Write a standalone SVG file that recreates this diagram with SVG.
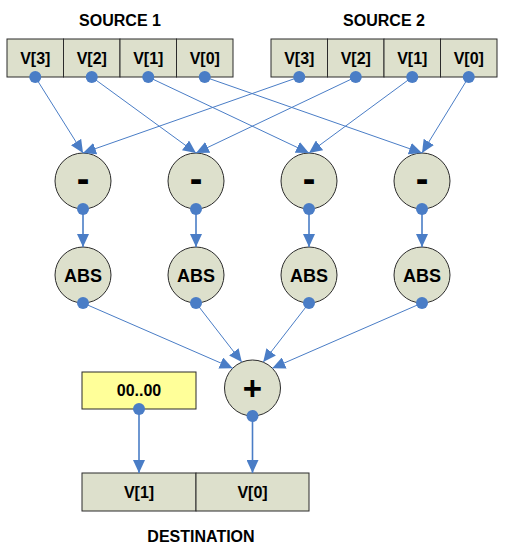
<svg xmlns="http://www.w3.org/2000/svg" width="506" height="558" viewBox="0 0 506 558">
<defs>
<style>
.cell{fill:#DDE0CC;stroke:#2b2b2b;stroke-width:1}
.op{fill:#DDE0CC;stroke:#2b2b2b;stroke-width:1}
.yel{fill:#FFFF99;stroke:#2b2b2b;stroke-width:1}
.t{font-family:"Liberation Sans",Arial,sans-serif;font-weight:bold;fill:#000;text-anchor:middle}
.lbl{font-size:16px}
.ttl{font-size:16px}
.abs{font-size:18px}
.sym{font-size:38px}
.plus{font-size:33px}
.ln{stroke:#4A7DC6;stroke-width:1;fill:none;marker-end:url(#ah)}
.lnv{stroke:#4A7DC6;stroke-width:1.6;fill:none;marker-end:url(#ah)}
.dot{fill:#4A7DC6}
</style>
<marker id="ah" markerUnits="userSpaceOnUse" markerWidth="13" markerHeight="12" refX="13" refY="6" orient="auto" viewBox="0 0 13 12">
<path d="M0,0 L13,6 L0,12 z" fill="#4A7DC6"/>
</marker>
</defs>

<g id="source1">
<text class="t ttl" x="120" y="25.5">SOURCE 1</text>
<rect class="cell" x="7" y="39" width="56.5" height="38"/>
<rect class="cell" x="63.5" y="39" width="56.5" height="38"/>
<rect class="cell" x="120" y="39" width="56.5" height="38"/>
<rect class="cell" x="176.5" y="39" width="56.5" height="38"/>
<text class="t lbl" x="35.25" y="64">V[3]</text>
<text class="t lbl" x="91.75" y="64">V[2]</text>
<text class="t lbl" x="148.25" y="64">V[1]</text>
<text class="t lbl" x="204.75" y="64">V[0]</text>
</g>

<g id="source2">
<text class="t ttl" x="384" y="25.5">SOURCE 2</text>
<rect class="cell" x="271" y="39" width="56.5" height="38"/>
<rect class="cell" x="327.5" y="39" width="56.5" height="38"/>
<rect class="cell" x="384" y="39" width="56.5" height="38"/>
<rect class="cell" x="440.5" y="39" width="56.5" height="38"/>
<text class="t lbl" x="299.25" y="64">V[3]</text>
<text class="t lbl" x="355.75" y="64">V[2]</text>
<text class="t lbl" x="412.25" y="64">V[1]</text>
<text class="t lbl" x="468.75" y="64">V[0]</text>
</g>

<g id="sub1"><circle class="op" cx="83" cy="181" r="28"/><text class="t sym" x="83" y="192">-</text></g>
<g id="sub2"><circle class="op" cx="196" cy="181" r="28"/><text class="t sym" x="196" y="192">-</text></g>
<g id="sub3"><circle class="op" cx="309" cy="181" r="28"/><text class="t sym" x="309" y="192">-</text></g>
<g id="sub4"><circle class="op" cx="422" cy="181" r="28"/><text class="t sym" x="422" y="192">-</text></g>

<g id="abs1"><circle class="op" cx="83" cy="275" r="28"/><text class="t abs" x="83" y="281.5">ABS</text></g>
<g id="abs2"><circle class="op" cx="196" cy="275" r="28"/><text class="t abs" x="196" y="281.5">ABS</text></g>
<g id="abs3"><circle class="op" cx="309" cy="275" r="28"/><text class="t abs" x="309" y="281.5">ABS</text></g>
<g id="abs4"><circle class="op" cx="422" cy="275" r="28"/><text class="t abs" x="422" y="281.5">ABS</text></g>

<g id="sum"><circle class="op" cx="252.5" cy="388" r="28"/><text class="t plus" x="252.5" y="399.5">+</text></g>

<g id="zero"><rect class="yel" x="82" y="372" width="114" height="37"/><text class="t lbl" x="139" y="396">00..00</text></g>

<g id="destination">
<rect class="cell" x="82" y="473" width="114" height="38"/>
<rect class="cell" x="196" y="473" width="113" height="38"/>
<text class="t lbl" x="139" y="498">V[1]</text>
<text class="t lbl" x="252.5" y="498">V[0]</text>
<text class="t ttl" x="201" y="542">DESTINATION</text>
</g>

<g id="connectors">
<line class="ln" x1="35.25" y1="77" x2="83" y2="153"/>
<line class="ln" x1="299.25" y1="77" x2="83" y2="153"/>
<line class="ln" x1="91.75" y1="77" x2="196" y2="153"/>
<line class="ln" x1="355.75" y1="77" x2="196" y2="153"/>
<line class="ln" x1="148.25" y1="77" x2="309" y2="153"/>
<line class="ln" x1="412.25" y1="77" x2="309" y2="153"/>
<line class="ln" x1="204.75" y1="77" x2="422" y2="153"/>
<line class="ln" x1="468.75" y1="77" x2="422" y2="153"/>

<line class="lnv" x1="83" y1="209" x2="83" y2="247"/>
<line class="lnv" x1="196" y1="209" x2="196" y2="247"/>
<line class="lnv" x1="309" y1="209" x2="309" y2="247"/>
<line class="lnv" x1="422" y1="209" x2="422" y2="247"/>

<line class="ln" x1="83" y1="303" x2="232.7" y2="368.2"/>
<line class="ln" x1="196" y1="303" x2="241.8" y2="362.1"/>
<line class="ln" x1="309" y1="303" x2="263.2" y2="362.1"/>
<line class="ln" x1="422" y1="303" x2="272.3" y2="368.2"/>

<line class="lnv" x1="139" y1="409" x2="139" y2="473"/>
<line class="lnv" x1="252.5" y1="416" x2="252.5" y2="473"/>

<circle class="dot" cx="35.25" cy="77" r="6"/>
<circle class="dot" cx="91.75" cy="77" r="6"/>
<circle class="dot" cx="148.25" cy="77" r="6"/>
<circle class="dot" cx="204.75" cy="77" r="6"/>
<circle class="dot" cx="299.25" cy="77" r="6"/>
<circle class="dot" cx="355.75" cy="77" r="6"/>
<circle class="dot" cx="412.25" cy="77" r="6"/>
<circle class="dot" cx="468.75" cy="77" r="6"/>
<circle class="dot" cx="83" cy="209" r="6"/>
<circle class="dot" cx="196" cy="209" r="6"/>
<circle class="dot" cx="309" cy="209" r="6"/>
<circle class="dot" cx="422" cy="209" r="6"/>
<circle class="dot" cx="83" cy="303" r="6"/>
<circle class="dot" cx="196" cy="303" r="6"/>
<circle class="dot" cx="309" cy="303" r="6"/>
<circle class="dot" cx="422" cy="303" r="6"/>
<circle class="dot" cx="252.5" cy="416" r="6"/>
<circle class="dot" cx="139" cy="409" r="6"/>
</g>
</svg>
